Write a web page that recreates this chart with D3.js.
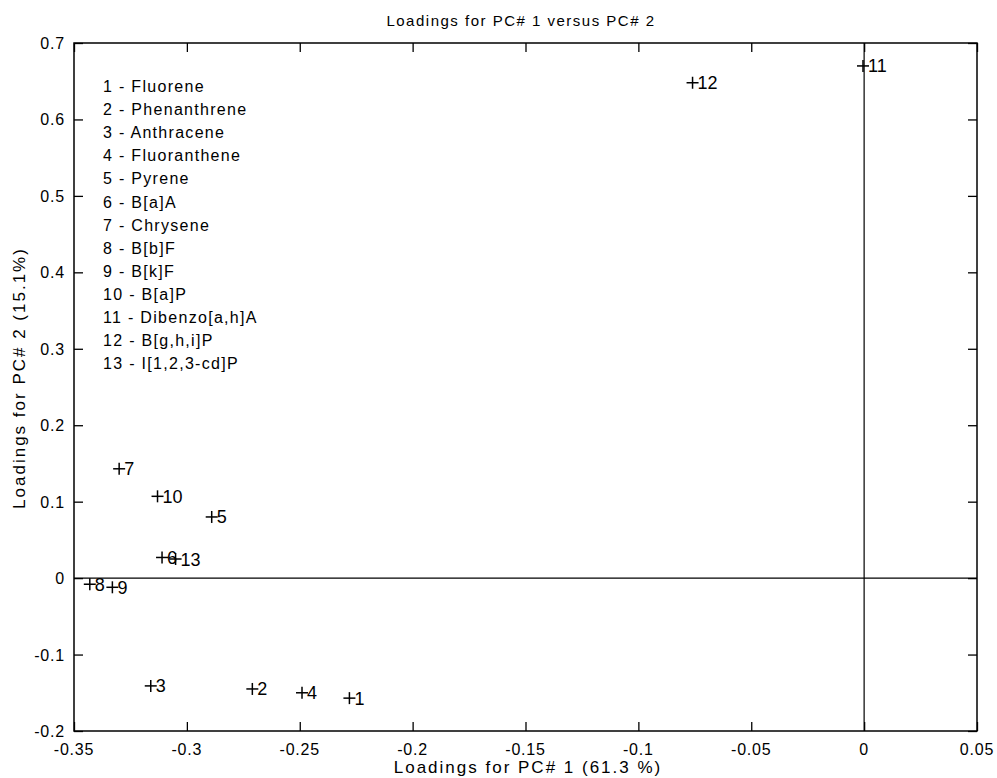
<!DOCTYPE html>
<html>
<head>
<meta charset="utf-8">
<script src="https://cdn.jsdelivr.net/npm/d3@7/dist/d3.min.js"></script>
<style>
  body { margin: 0; background: #fff; }
  text { font-family: "Liberation Sans", Arial, sans-serif; fill: #000; }
</style>
</head>
<body>
<div id="chart"></div>
<script>
// compound numbers and names
var ids = [1, 2, 3, 4, 5, 6, 7, 8, 9, 10, 11, 12, 13];
var names = ["Fluorene", "Phenanthrene", "Anthracene", "Fluoranthene", "Pyrene",
             "B[a]A", "Chrysene", "B[b]F", "B[k]F", "B[a]P", "Dibenzo[a,h]A",
             "B[g,h,i]P", "I[1,2,3-cd]P"];
// loadings
var pc1 = [-0.228, -0.271, -0.316, -0.249, -0.289, -0.311, -0.330, -0.343, -0.333, -0.313, -0.0005, -0.076, -0.305];
var pc2 = [-0.157, -0.145, -0.141, -0.150, 0.080, 0.027, 0.143, -0.008, -0.012, 0.107, 0.670, 0.648, 0.025];

var xTicks = [-0.35, -0.3, -0.25, -0.2, -0.15, -0.1, -0.05, 0, 0.05];
var xTickLabels = ["-0.35", "-0.3", "-0.25", "-0.2", "-0.15", "-0.1", "-0.05", "0", "0.05"];
var yTicks = [-0.2, -0.1, 0, 0.1, 0.2, 0.3, 0.4, 0.5, 0.6, 0.7];
var yTickLabels = ["-0.2", "-0.1", "0", "0.1", "0.2", "0.3", "0.4", "0.5", "0.6", "0.7"];

function drawChart(){

    var width = 997, height = 778;
    var pLeft = 74, pRight = 977, pTop = 43, pBottom = 731;

    var svg = d3.select("#chart").append("svg")
        .attr("width", width)
        .attr("height", height);

    var x = d3.scaleLinear().domain([-0.35, 0.05]).range([pLeft, pRight]);
    var y = d3.scaleLinear().domain([-0.2, 0.7]).range([pBottom, pTop]);

    // axes, ticks pointing inward on all four sides
    var tk = 9;
    svg.append("g").attr("transform", "translate(0," + pBottom + ")")
        .call(d3.axisTop(x).tickValues(xTicks).tickSize(tk).tickFormat(""));
    svg.append("g").attr("transform", "translate(0," + pTop + ")")
        .call(d3.axisBottom(x).tickValues(xTicks).tickSize(tk).tickFormat(""));
    svg.append("g").attr("transform", "translate(" + pLeft + ",0)")
        .call(d3.axisRight(y).tickValues(yTicks).tickSize(tk).tickFormat(""));
    svg.append("g").attr("transform", "translate(" + pRight + ",0)")
        .call(d3.axisLeft(y).tickValues(yTicks).tickSize(tk).tickFormat(""));
    svg.selectAll(".domain").remove();
    svg.selectAll(".tick line").attr("stroke", "#000").attr("stroke-width", 1.3);

    // box
    svg.append("rect")
        .attr("x", pLeft).attr("y", pTop)
        .attr("width", pRight - pLeft).attr("height", pBottom - pTop)
        .attr("fill", "none").attr("stroke", "#000").attr("stroke-width", 1.5);

    // zero lines
    svg.append("line")
        .attr("x1", pLeft).attr("x2", pRight)
        .attr("y1", y(0)).attr("y2", y(0))
        .attr("stroke", "#000").attr("stroke-width", 1.2);
    svg.append("line")
        .attr("x1", x(0)).attr("x2", x(0))
        .attr("y1", pTop).attr("y2", pBottom)
        .attr("stroke", "#000").attr("stroke-width", 1.2);

    // tick labels
    svg.selectAll("text.xl").data(xTicks).enter().append("text")
        .attr("class", "xl")
        .attr("x", function(d){ return x(d); })
        .attr("y", pBottom + 24)
        .attr("text-anchor", "middle")
        .style("font-size", "16px")
        .style("letter-spacing", "0.8px")
        .text(function(d, i){ return xTickLabels[i]; });
    svg.selectAll("text.yl").data(yTicks).enter().append("text")
        .attr("class", "yl")
        .attr("x", pLeft - 9)
        .attr("y", function(d){ return y(d) + 6; })
        .attr("text-anchor", "end")
        .style("font-size", "16px")
        .style("letter-spacing", "0.8px")
        .text(function(d, i){ return yTickLabels[i]; });

    // titles
    svg.append("text")
        .attr("x", 521).attr("y", 26)
        .attr("text-anchor", "middle")
        .style("font-size", "15px")
        .style("letter-spacing", "1.5px")
        .text("Loadings for PC# 1 versus PC# 2");
    svg.append("text")
        .attr("x", 528).attr("y", 773)
        .attr("text-anchor", "middle")
        .style("font-size", "17px")
        .style("letter-spacing", "2px")
        .text("Loadings for PC# 1 (61.3 %)");
    svg.append("text")
        .attr("transform", "translate(25,378) rotate(-90)")
        .attr("text-anchor", "middle")
        .style("font-size", "17px")
        .style("letter-spacing", "2px")
        .text("Loadings for PC# 2 (15.1%)");

    // legend text inside plot
    svg.selectAll("text.leg").data(ids).enter().append("text")
        .attr("class", "leg")
        .attr("x", 103)
        .attr("y", function(d, i){ return 92 + i * 23.1; })
        .style("font-size", "16px")
        .style("letter-spacing", "1.3px")
        .text(function(d, i){ return d + " - " + names[i]; });

    // points as plus markers with number labels
    var pts = svg.selectAll("g.pt").data(ids).enter().append("g")
        .attr("class", "pt")
        .attr("transform", function(d, i){ return "translate(" + x(pc1[i]) + "," + y(pc2[i]) + ")"; });
    pts.append("line").attr("x1", -6).attr("x2", 6).attr("y1", 0).attr("y2", 0)
        .attr("stroke", "#000").attr("stroke-width", 1.5);
    pts.append("line").attr("x1", 0).attr("x2", 0).attr("y1", -6).attr("y2", 6)
        .attr("stroke", "#000").attr("stroke-width", 1.5);
    pts.append("text")
        .attr("x", 5).attr("y", 6.5)
        .style("font-size", "18px")
        .text(function(d){ return d; });
}

drawChart();
</script>
</body>
</html>
